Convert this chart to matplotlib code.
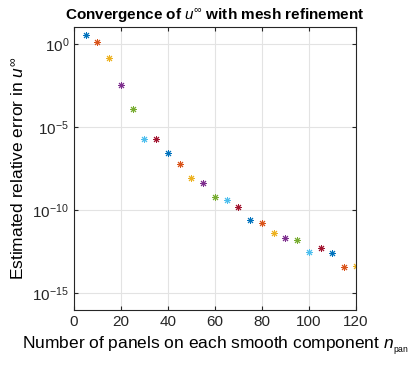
import numpy as np
import matplotlib.pyplot as plt
from matplotlib.ticker import FixedLocator, NullLocator

plt.rcParams['font.family'] = ['Liberation Sans', 'DejaVu Sans']
plt.rcParams['mathtext.fontset'] = 'custom'
plt.rcParams['mathtext.rm'] = 'Liberation Sans'
plt.rcParams['mathtext.it'] = 'Liberation Sans:italic'
plt.rcParams['mathtext.bf'] = 'Liberation Sans:bold'

# Data
n_pan = [5, 10, 15, 20, 25, 30, 35, 40, 45, 50, 55, 60,
         65, 70, 75, 80, 85, 90, 95, 100, 105, 110, 115, 120]
log_err = [0.54, 0.12, -0.84, -2.46, -3.92, -5.72, -5.69, -6.55, -7.25, -8.08, -8.38, -9.20,
           -9.37, -9.78, -10.58, -10.78, -11.38, -11.68, -11.78, -12.54, -12.30, -12.57, -13.40, -13.34]
err = [10 ** v for v in log_err]

# MATLAB default color order
colors = ['#0072BD', '#D95319', '#EDB120', '#7E2F8E', '#77AC30', '#4DBEEE', '#A2142F']

fig = plt.figure(figsize=(4.15, 3.66), dpi=100)
ax = fig.add_axes([0.1783, 0.153, 0.6795, 0.7724])

for i, (x, y) in enumerate(zip(n_pan, err)):
    ax.plot(x, y, linestyle='none', marker=(8, 2, 0), markersize=5,
            markeredgewidth=0.7, color=colors[i % len(colors)])

ax.set_yscale('log')
ax.set_xlim(0, 120)
ax.set_ylim(1e-16, 1e1)
ax.set_xticks([0, 20, 40, 60, 80, 100, 120])
ax.yaxis.set_major_locator(FixedLocator([1e-15, 1e-10, 1e-5, 1e0]))
ax.yaxis.set_minor_locator(NullLocator())
ax.grid(True, color='#e3e3e3', linewidth=0.8)
ax.set_axisbelow(True)
ax.tick_params(direction='in', length=3, width=0.8, labelsize=11, colors='#262626',
               top=True, right=True, labelcolor='#262626')
for s in ax.spines.values():
    s.set_color('#262626')
    s.set_linewidth(0.8)

ax.set_title(r'Convergence of $u^{\infty}$ with mesh refinement',
             fontsize=11, fontweight='bold', pad=6)
ax.set_ylabel(r'Estimated relative error in $u^{\infty}$', fontsize=12.5)
ax.set_xlabel(r'Number of panels on each smooth component $n_{_{\mathrm{pan}}}$', fontsize=12.5)

fig.savefig('out.png', dpi=100)
